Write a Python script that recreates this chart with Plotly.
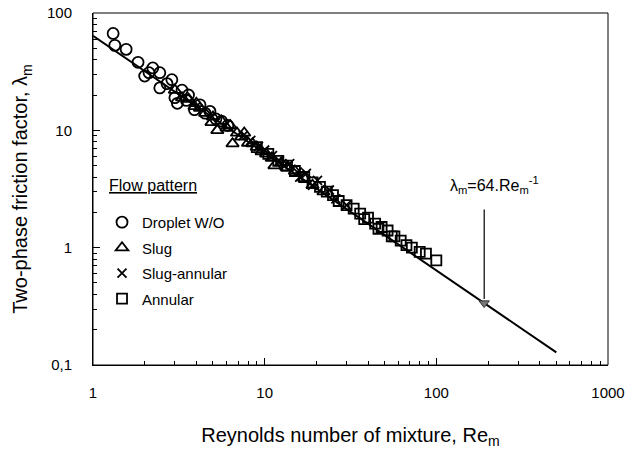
import math
import plotly.graph_objects as go

# data
re_drop = [1.31, 1.34, 1.56, 1.83, 2.0, 2.12, 2.23, 2.45, 2.45, 2.7, 2.88, 3.0, 3.1, 3.3, 3.5, 3.6, 3.9, 4.2, 4.5, 4.8, 5.2, 5.6, 6.1]
lam_drop = [67, 53, 49, 38, 29, 31, 34, 31, 23, 25, 27, 19, 17, 22, 18, 20, 15, 16.5, 14, 14.5, 12.5, 12, 11]

re_slug = [3.0, 3.3, 3.6, 3.9, 4.0, 4.2, 4.5, 4.9, 5.0, 5.3, 5.6, 6.0, 6.3, 6.5, 6.9, 7.3, 7.6, 8.0, 8.5, 9.0, 9.6, 10.2, 11.0, 11.4, 12.5, 13.5, 15, 17, 19, 22]
lam_slug = [22, 19, 18.5, 16, 17, 15.5, 14, 11.7, 13, 10, 12, 10.5, 11, 7.7, 9.5, 8.8, 9.5, 7.8, 7.7, 7.2, 6.6, 6.3, 5.8, 5.0, 5.3, 4.8, 4.5, 3.9, 3.4, 3.0]

re_sa = [7.5, 8.3, 9.2, 10.0, 11.1, 12.2, 13, 14.0, 15.5, 16, 17.5, 19, 20.3, 23.8, 26, 30]
lam_sa = [9.0, 8.2, 7.3, 6.8, 6.1, 5.5, 5.0, 5.2, 4.4, 4.0, 4.3, 3.4, 3.75, 3.1, 2.6, 2.3]

re_ann = [9, 10.5, 12, 13.5, 15, 17, 19, 21, 23, 25, 27, 30, 33, 36, 38, 40, 44, 46, 48, 52, 55, 57, 62, 67, 72, 80, 87, 100]
lam_ann = [7.2, 6.3, 5.5, 5.0, 4.5, 4.0, 3.6, 3.3, 3.0, 2.8, 2.5, 2.3, 2.15, 1.95, 1.75, 1.8, 1.6, 1.45, 1.5, 1.4, 1.25, 1.25, 1.15, 1.05, 1.0, 0.92, 0.89, 0.78]

re_fit = [1, 500]
lam_fit = [64 / r for r in re_fit]
re_mark = 190

x_ticks = [1, 10, 100, 1000]
x_text = ['1', '10', '100', '1000']
y_ticks = [0.1, 1, 10, 100]
y_text = ['0,1', '1', '10', '100']
x_minor = [m * d for d in [1, 10, 100] for m in range(2, 10)]
y_minor = [m * d for d in [0.1, 1, 10] for m in range(2, 10)]

font = 'Liberation Sans, Arial, sans-serif'

fig = go.Figure()
fig.add_trace(go.Scatter(x=re_fit, y=lam_fit, mode='lines', line=dict(color='black', width=2),
                         showlegend=False))

series = [
    ('Droplet W/O', re_drop, lam_drop, 'circle-open', 11),
    ('Slug', re_slug, lam_slug, 'triangle-up-open', 11),
    ('Slug-annular', re_sa, lam_sa, 'x-thin-open', 9),
    ('Annular', re_ann, lam_ann, 'square-open', 10),
]
for i, (name, xs, ys, sym, size) in enumerate(series):
    fig.add_trace(go.Scatter(x=xs, y=ys, mode='markers', name=name, legendgroup=str(i),
                             marker=dict(symbol=sym, size=size, color='black',
                                         line=dict(color='black', width=1.8))))

# arrow to the correlation line
fig.add_trace(go.Scatter(x=[re_mark], y=[64 / re_mark], mode='markers', showlegend=False,
                         marker=dict(symbol='triangle-down', size=9, color='#777',
                                     line=dict(color='#333', width=1))))
fig.add_annotation(x=math.log10(re_mark), y=math.log10(64 / re_mark), xref='x', yref='y',
                   text='', showarrow=True, ax=0, ay=-95, standoff=4,
                   arrowhead=0, arrowwidth=1.2, arrowcolor='black')
fig.add_annotation(x=math.log10(re_mark) + 0.06, y=math.log10(64 / re_mark) + 1.01,
                   xref='x', yref='y', showarrow=False,
                   text='λ<sub>m</sub>=64.Re<sub>m</sub><sup>-1</sup>',
                   font=dict(size=16, color='black', family=font))

# legend heading
fig.add_annotation(x=0.027, y=0.511, xref='paper', yref='paper', xanchor='left', yanchor='middle',
                   showarrow=False, text='<u>Flow pattern</u>',
                   font=dict(size=16, color='black', family=font))

# plot frame
fig.add_shape(type='rect', xref='paper', yref='paper', x0=0, y0=0, x1=1, y1=1,
              line=dict(color='black', width=1))

fig.update_xaxes(type='log', range=[0, 3], tickvals=x_ticks, ticktext=x_text,
                 ticks='inside', ticklen=7, tickcolor='black', showline=True, linecolor='black',
                 showgrid=False, zeroline=False, automargin=False, ticklabeloverflow='allow',
                 minor=dict(tickvals=x_minor, ticks='inside', ticklen=4, tickcolor='black', showgrid=False),
                 tickfont=dict(size=15, color='black', family=font), ticklabelstandoff=14,
                 title=dict(text='Reynolds number of mixture, Re<sub>m</sub>', standoff=27,
                            font=dict(size=20, color='black', family=font)))
fig.update_yaxes(type='log', range=[-1, 2], tickvals=y_ticks, ticktext=y_text,
                 ticks='inside', ticklen=7, tickcolor='black', showline=True, linecolor='black',
                 showgrid=False, zeroline=False, automargin=False, ticklabeloverflow='allow',
                 minor=dict(tickvals=y_minor, ticks='inside', ticklen=4, tickcolor='black', showgrid=False),
                 tickfont=dict(size=15, color='black', family=font), ticklabelstandoff=17,
                 title=dict(text='Two-phase friction factor, λ<sub>m</sub>', standoff=13,
                            font=dict(size=20, color='black', family=font)))

fig.update_layout(width=639, height=451,
                  plot_bgcolor='white', paper_bgcolor='white',
                  margin=dict(l=93, r=31, t=13, b=86),
                  font=dict(family=font, color='black'),
                  legend=dict(x=0.0175, y=0.452, xanchor='left', yanchor='top',
                              font=dict(size=15), tracegroupgap=3, bgcolor='rgba(0,0,0,0)'))

fig.write_html('out.html', config={'displayModeBar': False},
               post_script="document.body.style.margin = '0';")
